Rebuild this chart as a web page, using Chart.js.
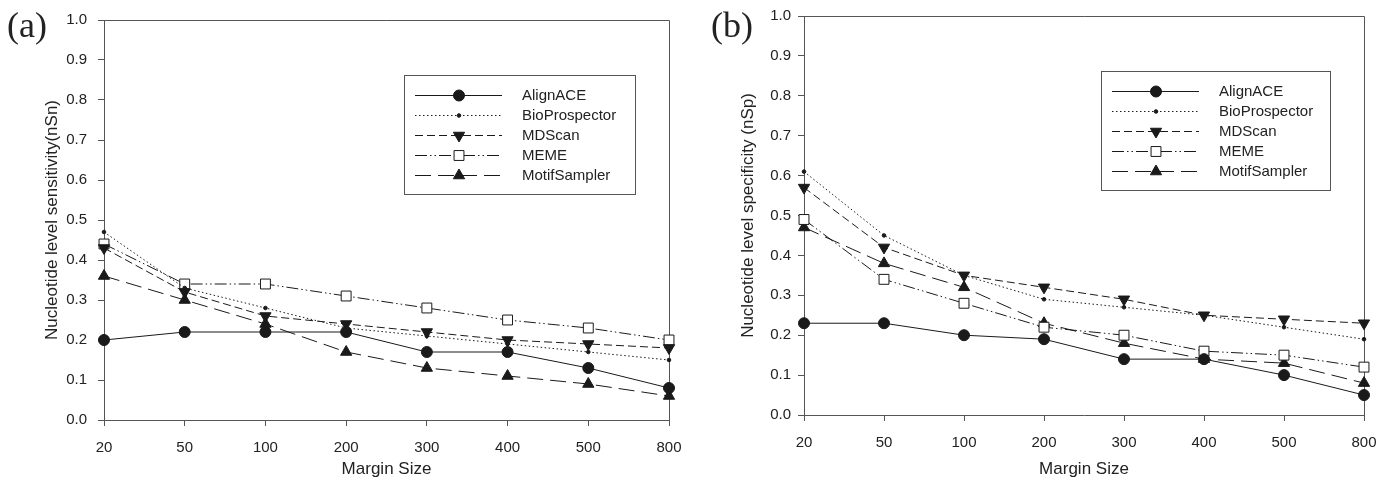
<!DOCTYPE html>
<html><head><meta charset="utf-8">
<script src="https://cdn.jsdelivr.net/npm/chart.js@4.4.0/dist/chart.umd.min.js"></script>
<style>
html,body{margin:0;padding:0;background:#fff;width:1390px;height:481px;overflow:hidden}
.lab{position:absolute;font-family:"Liberation Serif","Times New Roman",serif;font-size:36px;color:#222;line-height:1}
</style></head><body>
<canvas id="ca" width="695" height="481" style="position:absolute;left:0;top:0"></canvas>
<canvas id="cb" width="695" height="481" style="position:absolute;left:695px;top:0"></canvas>
<div class="lab" style="left:7px;top:7px">(a)</div>
<div class="lab" style="left:711px;top:7px">(b)</div>
<script>
// ---- data ----
const marginSizes = ['20','50','100','200','300','400','500','800'];
const yTickValues = [0.0,0.1,0.2,0.3,0.4,0.5,0.6,0.7,0.8,0.9,1.0];
const seriesNames = ['AlignACE','BioProspector','MDScan','MEME','MotifSampler'];

const sensAlignACE      = [0.20,0.22,0.22,0.22,0.17,0.17,0.13,0.08];
const sensBioProspector = [0.47,0.33,0.28,0.23,0.21,0.19,0.17,0.15];
const sensMDScan        = [0.43,0.32,0.26,0.24,0.22,0.20,0.19,0.18];
const sensMEME          = [0.44,0.34,0.34,0.31,0.28,0.25,0.23,0.20];
const sensMotifSampler  = [0.36,0.30,0.24,0.17,0.13,0.11,0.09,0.06];

const specAlignACE      = [0.23,0.23,0.20,0.19,0.14,0.14,0.10,0.05];
const specBioProspector = [0.61,0.45,0.35,0.29,0.27,0.25,0.22,0.19];
const specMDScan        = [0.57,0.42,0.35,0.32,0.29,0.25,0.24,0.23];
const specMEME          = [0.49,0.34,0.28,0.22,0.20,0.16,0.15,0.12];
const specMotifSampler  = [0.47,0.38,0.32,0.23,0.18,0.14,0.13,0.08];

// ---- styles ----
const INK = '#1a1a1a', AXIS = '#555';
const SANS = '"Liberation Sans", Arial, Helvetica, sans-serif';
const seriesStyles = [
  {borderDash:[], pointStyle:'circle', pointRadius:5.5, pointRotation:0, pointBackgroundColor:INK},
  {borderDash:[1.5,2.5], pointStyle:'circle', pointRadius:1.8, pointRotation:0, pointBackgroundColor:INK},
  {borderDash:[8,4], pointStyle:'triangle', pointRadius:6.5, pointRotation:180, pointBackgroundColor:INK},
  {borderDash:[12,3,1.5,3,1.5,3], pointStyle:'rect', pointRadius:7, pointRotation:0, pointBackgroundColor:'#fff'},
  {borderDash:[16,7], pointStyle:'triangle', pointRadius:6.5, pointRotation:0, pointBackgroundColor:INK}
];

const framePlugin = {
  id:'frame',
  beforeDatasetsDraw(chart){
    const {ctx, chartArea:ca} = chart;
    ctx.save();
    ctx.strokeStyle = AXIS; ctx.lineWidth = 1;
    ctx.beginPath();
    ctx.moveTo(ca.left, Math.round(ca.top)+0.5);
    ctx.lineTo(Math.round(ca.right)+0.5, Math.round(ca.top)+0.5);
    ctx.lineTo(Math.round(ca.right)+0.5, ca.bottom);
    ctx.stroke();
    ctx.restore();
  }
};

const legendPlugin = {
  id:'boxLegend',
  afterDatasetsDraw(chart){
    const {ctx, chartArea:ca} = chart;
    const o = chart.options.plugins.boxLegend;
    const bx = Math.round(ca.left + o.dx), by = Math.round(ca.top + o.dy), bw = o.w, bh = o.h;
    ctx.save();
    ctx.fillStyle = '#fff'; ctx.fillRect(bx, by, bw, bh);
    ctx.strokeStyle = AXIS; ctx.lineWidth = 1; ctx.strokeRect(bx+0.5, by+0.5, bw, bh);
    chart.data.datasets.forEach((ds, i) => {
      const y = by + 20 + i*20 + 0.5;
      ctx.beginPath();
      ctx.setLineDash(ds.borderDash || []);
      ctx.strokeStyle = ds.borderColor; ctx.lineWidth = ds.borderWidth;
      ctx.moveTo(bx+11, y); ctx.lineTo(bx+98, y); ctx.stroke();
      ctx.setLineDash([]);
      ctx.fillStyle = ds.pointBackgroundColor; ctx.strokeStyle = ds.pointBorderColor; ctx.lineWidth = 1;
      Chart.helpers.drawPoint(ctx, {pointStyle:ds.pointStyle, radius:ds.pointRadius, rotation:ds.pointRotation||0, borderWidth:1}, bx+55, y);
      ctx.fillStyle = '#222'; ctx.font = '15px ' + SANS; ctx.textBaseline = 'middle'; ctx.textAlign = 'left';
      ctx.fillText(ds.label, bx+118, y);
    });
    ctx.restore();
  }
};

function makeChart(id, values, yTitle, cfg){
  return new Chart(document.getElementById(id), {
    type:'line',
    data:{
      labels: marginSizes,
      datasets: seriesNames.map((n,i) => Object.assign({
        label:n, data:values[i], borderColor:INK, borderWidth:1, pointBorderColor:INK,
        pointBorderWidth:1, tension:0, fill:false
      }, seriesStyles[i]))
    },
    options:{
      responsive:false, animation:false, devicePixelRatio:1,
      layout:{padding:{left:0, top:cfg.top, right:26, bottom:0}},
      plugins:{legend:{display:false}, tooltip:{enabled:false},
        boxLegend:{dx:cfg.ldx, dy:55, w:cfg.lw, h:119}},
      scales:{
        x:{type:'category', offset:false,
          grid:{drawOnChartArea:false, drawTicks:true, tickLength:6, color:AXIS},
          border:{color:AXIS, width:1},
          ticks:{color:'#222', font:{family:SANS, size:15}, padding:13, maxRotation:0, autoSkip:false},
          title:{display:true, text:'Margin Size', color:'#222', font:{family:SANS, size:17}, padding:{top:0, bottom:1}},
          afterFit(s){ s.height = 481 - cfg.bottom; }
        },
        y:{min:0, max:1,
          afterBuildTicks(s){ s.ticks = yTickValues.map(v => ({value:v})); },
          grid:{drawOnChartArea:false, drawTicks:true, tickLength:6, color:AXIS},
          border:{color:AXIS, width:1},
          ticks:{color:'#222', font:{family:SANS, size:15}, padding:cfg.ypad, callback:v => Number(v).toFixed(1)},
          title:{display:true, text:yTitle, color:'#222', font:{family:SANS, size:17}, padding:{top:cfg.tpad, bottom:0}},
          afterFit(s){ s.width = cfg.left; }
        }
      }
    },
    plugins:[framePlugin, legendPlugin]
  });
}

makeChart('ca', [sensAlignACE, sensBioProspector, sensMDScan, sensMEME, sensMotifSampler],
  'Nucleotide level sensitivity(nSn)', {top:13, bottom:420, left:104, ypad:11, tpad:42, ldx:300, lw:231});
makeChart('cb', [specAlignACE, specBioProspector, specMDScan, specMEME, specMotifSampler],
  'Nucleotide level specificity (nSp)', {top:11, bottom:415, left:109, ypad:7, tpad:43, ldx:297, lw:229});
</script>
</body></html>
